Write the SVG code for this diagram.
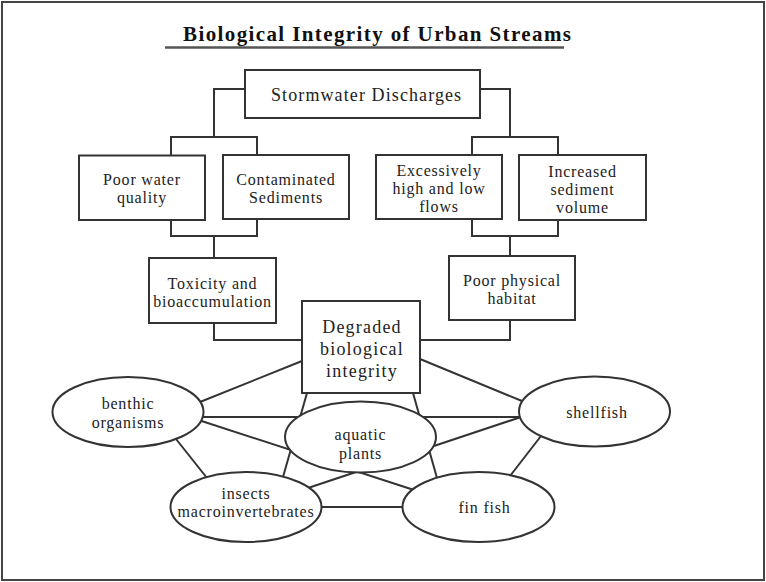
<svg xmlns="http://www.w3.org/2000/svg" width="766" height="582" viewBox="0 0 766 582">
<style>
.box{fill:#fff;stroke:#333;stroke-width:2}
.ell{fill:#fff;stroke:#333;stroke-width:2}
.ln{fill:none;stroke:#333;stroke-width:2}
.t{font-family:"Liberation Serif","Times New Roman",serif;font-size:16px;fill:#222;letter-spacing:0.8px;text-anchor:middle}
.tl{font-family:"Liberation Serif","Times New Roman",serif;font-size:18px;fill:#222;letter-spacing:1.1px}
.title{font-family:"Liberation Serif","Times New Roman",serif;font-size:21px;font-weight:bold;fill:#111}
</style>
<rect x="2" y="2" width="762" height="578" fill="#fff" stroke="#444" stroke-width="2"/>
<g id="title">
<text class="title" x="183" y="41" textLength="388" lengthAdjust="spacing">Biological Integrity of Urban Streams</text>
<line x1="165" y1="47.5" x2="564" y2="47.5" stroke="#555" stroke-width="2.5"/>
</g>
<g id="connectors">
<polyline class="ln" points="245,89 214,89 214,137"/>
<polyline class="ln" points="171,155.5 171,137 257,137 257,155"/>
<polyline class="ln" points="480,89 510,89 510,137"/>
<polyline class="ln" points="472,155 472,137 558,137 558,155"/>
<polyline class="ln" points="171,220 171,236 257,236 257,219"/>
<line class="ln" x1="214" y1="236" x2="214" y2="258"/>
<polyline class="ln" points="472,219 472,236 558,236 558,220"/>
<line class="ln" x1="510" y1="236" x2="510" y2="256"/>
<polyline class="ln" points="214,323 214,340 302,340"/>
<polyline class="ln" points="510,320 510,340 420,340"/>
<line class="ln" x1="302" y1="361" x2="200" y2="402"/>
<line class="ln" x1="420" y1="359" x2="522" y2="401"/>
<line class="ln" x1="200" y1="417" x2="522" y2="417"/>
<line class="ln" x1="200" y1="420.5" x2="414" y2="490"/>
<line class="ln" x1="176" y1="439" x2="207" y2="478"/>
<line class="ln" x1="307" y1="393" x2="283" y2="477"/>
<line class="ln" x1="413" y1="393" x2="437" y2="478"/>
<line class="ln" x1="308" y1="488" x2="521" y2="417"/>
<line class="ln" x1="320" y1="507" x2="404" y2="507"/>
<line class="ln" x1="541" y1="436" x2="510" y2="476"/>
</g>
<g id="stormwater">
<rect class="box" x="245" y="70" width="235" height="48"/>
<text class="tl" x="271" y="101">Stormwater Discharges</text>
</g>
<g id="poor-water-quality">
<rect class="box" x="79" y="155.5" width="126" height="64.5"/>
<text class="t" x="142" y="185">Poor water</text>
<text class="t" x="142" y="203">quality</text>
</g>
<g id="contaminated-sediments">
<rect class="box" x="223" y="155" width="126" height="64"/>
<text class="t" x="286" y="184.5">Contaminated</text>
<text class="t" x="286" y="202.5">Sediments</text>
</g>
<g id="flows">
<rect class="box" x="376" y="155" width="126" height="64"/>
<text class="t" x="439" y="176">Excessively</text>
<text class="t" x="439" y="194">high and low</text>
<text class="t" x="439" y="212">flows</text>
</g>
<g id="sediment-volume">
<rect class="box" x="519" y="155" width="127" height="65"/>
<text class="t" x="582.5" y="176.5">Increased</text>
<text class="t" x="582.5" y="194.5">sediment</text>
<text class="t" x="582.5" y="212.5">volume</text>
</g>
<g id="toxicity">
<rect class="box" x="149" y="258" width="127" height="65"/>
<text class="t" x="212.5" y="288.5">Toxicity and</text>
<text class="t" x="212.5" y="306.5">bioaccumulation</text>
</g>
<g id="habitat">
<rect class="box" x="449" y="256" width="126" height="64"/>
<text class="t" x="512" y="286">Poor physical</text>
<text class="t" x="512" y="303.5">habitat</text>
</g>
<g id="degraded">
<rect class="box" x="302" y="301" width="118" height="92"/>
<text class="t" x="362" y="333" style="font-size:18px;letter-spacing:1.2px">Degraded</text>
<text class="t" x="362" y="355" style="font-size:18px;letter-spacing:1.2px">biological</text>
<text class="t" x="362" y="377" style="font-size:18px;letter-spacing:1.2px">integrity</text>
</g>
<g id="benthic">
<ellipse class="ell" cx="128" cy="412" rx="75.5" ry="35"/>
<text class="t" x="128" y="409">benthic</text>
<text class="t" x="128" y="427.5">organisms</text>
</g>
<g id="shellfish">
<ellipse class="ell" cx="594.5" cy="411.5" rx="75.5" ry="35"/>
<text class="t" x="597" y="417.5">shellfish</text>
</g>
<g id="insects">
<ellipse class="ell" cx="246" cy="507" rx="75.5" ry="35"/>
<text class="t" x="246" y="498.5">insects</text>
<text class="t" x="246" y="516.5">macroinvertebrates</text>
</g>
<g id="finfish">
<ellipse class="ell" cx="478.5" cy="507" rx="76" ry="35"/>
<text class="t" x="484.5" y="513">fin fish</text>
</g>
<g id="aquatic-plants">
<ellipse class="ell" cx="360.5" cy="437" rx="75.5" ry="35.5"/>
<text class="t" x="360.5" y="440">aquatic</text>
<text class="t" x="360.5" y="459">plants</text>
</g>
</svg>
